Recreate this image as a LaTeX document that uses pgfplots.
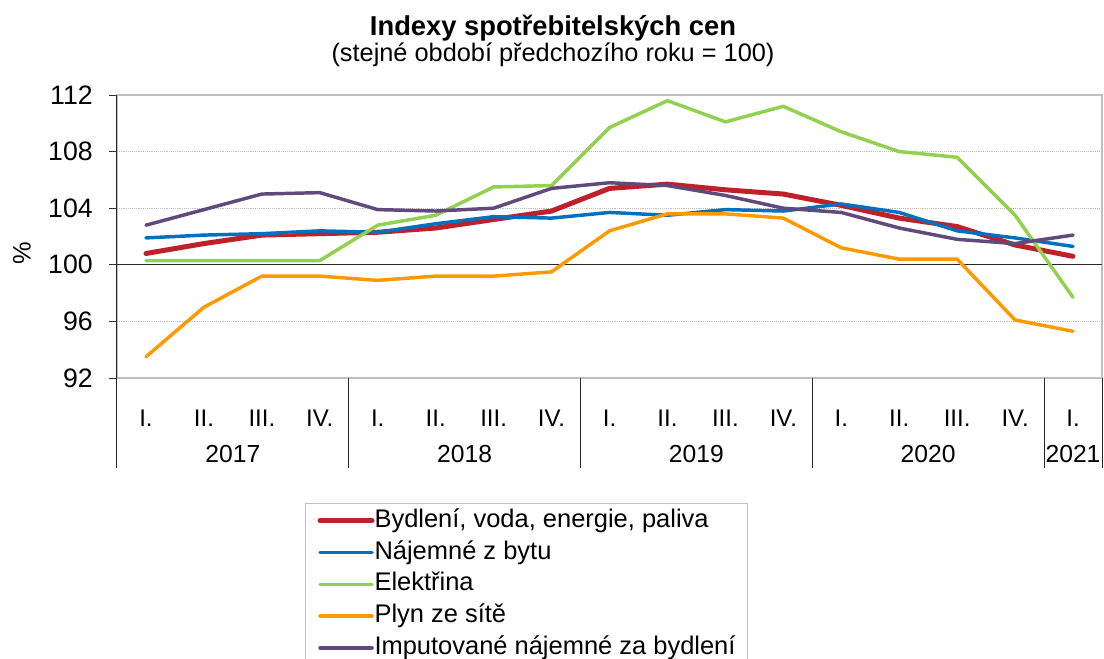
\documentclass[border=0pt]{standalone}
\usepackage{pgfplots}
\pgfplotsset{compat=1.18}
\usepackage{pgfplotstable}
\usepackage{fontspec}
\setmainfont{Liberation Sans}
\definecolor{cred}{HTML}{C0202A}
\definecolor{cblue}{HTML}{0070C0}
\definecolor{cgreen}{HTML}{92D050}
\definecolor{corange}{HTML}{FF9900}
\definecolor{cpurple}{HTML}{604A7B}
\definecolor{frame}{HTML}{BFBFBF}
\pgfplotstableread{
x red blue green orange purple
0 100.8 101.9 100.3 93.5 102.8
1 101.5 102.1 100.3 97.0 103.9
2 102.1 102.2 100.3 99.2 105.0
3 102.2 102.4 100.3 99.2 105.1
4 102.3 102.3 102.8 98.9 103.9
5 102.6 102.9 103.5 99.2 103.8
6 103.2 103.4 105.5 99.2 104.0
7 103.8 103.3 105.6 99.5 105.4
8 105.4 103.7 109.7 102.4 105.8
9 105.7 103.5 111.6 103.6 105.6
10 105.3 103.9 110.1 103.6 104.9
11 105.0 103.8 111.2 103.3 104.0
12 104.2 104.3 109.4 101.2 103.7
13 103.3 103.7 108.0 100.4 102.6
14 102.7 102.4 107.6 100.4 101.8
15 101.4 101.9 103.5 96.1 101.5
16 100.6 101.3 97.7 95.3 102.1
}\datatable
\begin{document}
\begin{tikzpicture}
\useasboundingbox (0,0) rectangle (828pt,-494.25pt);
\node[font=\fontsize{20.5}{24}\selectfont\bfseries] at (414.75pt,-21pt) {Indexy spotřebitelských cen};
\node[font=\fontsize{19}{22}\selectfont] at (414.75pt,-41pt) {(stejné období předchozího roku = 100)};
\node[font=\fontsize{19}{22}\selectfont, rotate=90] at (16.5pt,-189.75pt) {\%};
\begin{axis}[
  at={(87.75pt,-71.25pt)}, anchor=north west,
  scale only axis, width=738.75pt, height=212.25pt,
  xmin=-0.5, xmax=16.5, ymin=92, ymax=112,
  ytick={92,96,...,112},
  xtick={0,...,16},
  xticklabels={I.,II.,III.,IV.,I.,II.,III.,IV.,I.,II.,III.,IV.,I.,II.,III.,IV.,I.},
  x tick style={draw=none},
  y tick style={black!80, line width=0.75pt},
  tick align=outside, tick pos=left, major tick length=6pt,
  /pgf/number format/assume math mode=true,
  xticklabel style={font=\fontsize{18}{21}\selectfont, anchor=center, yshift=-24pt, inner sep=0pt},
  yticklabel style={font=\fontsize{20}{23}\selectfont, anchor=east, inner sep=0pt, xshift=-12pt},
  axis line style={draw=frame, line width=1.5pt},
  ymajorgrids, major grid style={densely dotted, frame, line width=0.75pt},
  clip=false,
  legend style={at={(0.1909,-0.4417)}, anchor=north west, draw=frame, line width=0.75pt,
     font=\fontsize{19.1}{23}\selectfont, inner xsep=9pt, inner ysep=4pt,
     nodes={inner sep=0pt, text height=14pt, text depth=4pt}, row sep=5.8pt,
     /tikz/every odd column/.append style={column sep=0pt}},
  legend cell align=left,
  legend image code/.code={\draw[#1] (0pt,0pt) -- (39pt,0pt);},
  every axis plot/.append style={line cap=round, line join=round},
]
\draw[black!85, line width=0.9pt] (axis cs:-0.5,100) -- (axis cs:16.5,100);
\addplot[cred, line width=3.75pt] table[x=x,y=red]{\datatable};
\addlegendentry{Bydlení, voda, energie, paliva}
\addplot[cblue, line width=2.6pt] table[x=x,y=blue]{\datatable};
\addlegendentry{Nájemné z bytu}
\addplot[cgreen, line width=2.6pt] table[x=x,y=green]{\datatable};
\addlegendentry{Elektřina}
\addplot[corange, line width=2.6pt] table[x=x,y=orange]{\datatable};
\addlegendentry{Plyn ze sítě}
\addplot[cpurple, line width=2.6pt] table[x=x,y=purple]{\datatable};
\addlegendentry{Imputované nájemné za bydlení}
\draw[black!85, line width=0.75pt] (axis cs:-0.5,112) -- (axis cs:-0.5,85.64);
\draw[black!85, line width=0.75pt] (axis cs:3.5,92) -- (axis cs:3.5,85.64);
\draw[black!85, line width=0.75pt] (axis cs:7.5,92) -- (axis cs:7.5,85.64);
\draw[black!85, line width=0.75pt] (axis cs:11.5,92) -- (axis cs:11.5,85.64);
\draw[black!85, line width=0.75pt] (axis cs:15.5,92) -- (axis cs:15.5,85.64);
\draw[black!85, line width=0.75pt] (axis cs:16.5,92) -- (axis cs:16.5,85.64);
\node[font=\fontsize{18.5}{22}\selectfont] at (axis cs:1.5,86.63) {2017};
\node[font=\fontsize{18.5}{22}\selectfont] at (axis cs:5.5,86.63) {2018};
\node[font=\fontsize{18.5}{22}\selectfont] at (axis cs:9.5,86.63) {2019};
\node[font=\fontsize{18.5}{22}\selectfont] at (axis cs:13.5,86.63) {2020};
\node[font=\fontsize{18.5}{22}\selectfont] at (axis cs:16,86.63) {2021};
\end{axis}
\end{tikzpicture}
\end{document}
